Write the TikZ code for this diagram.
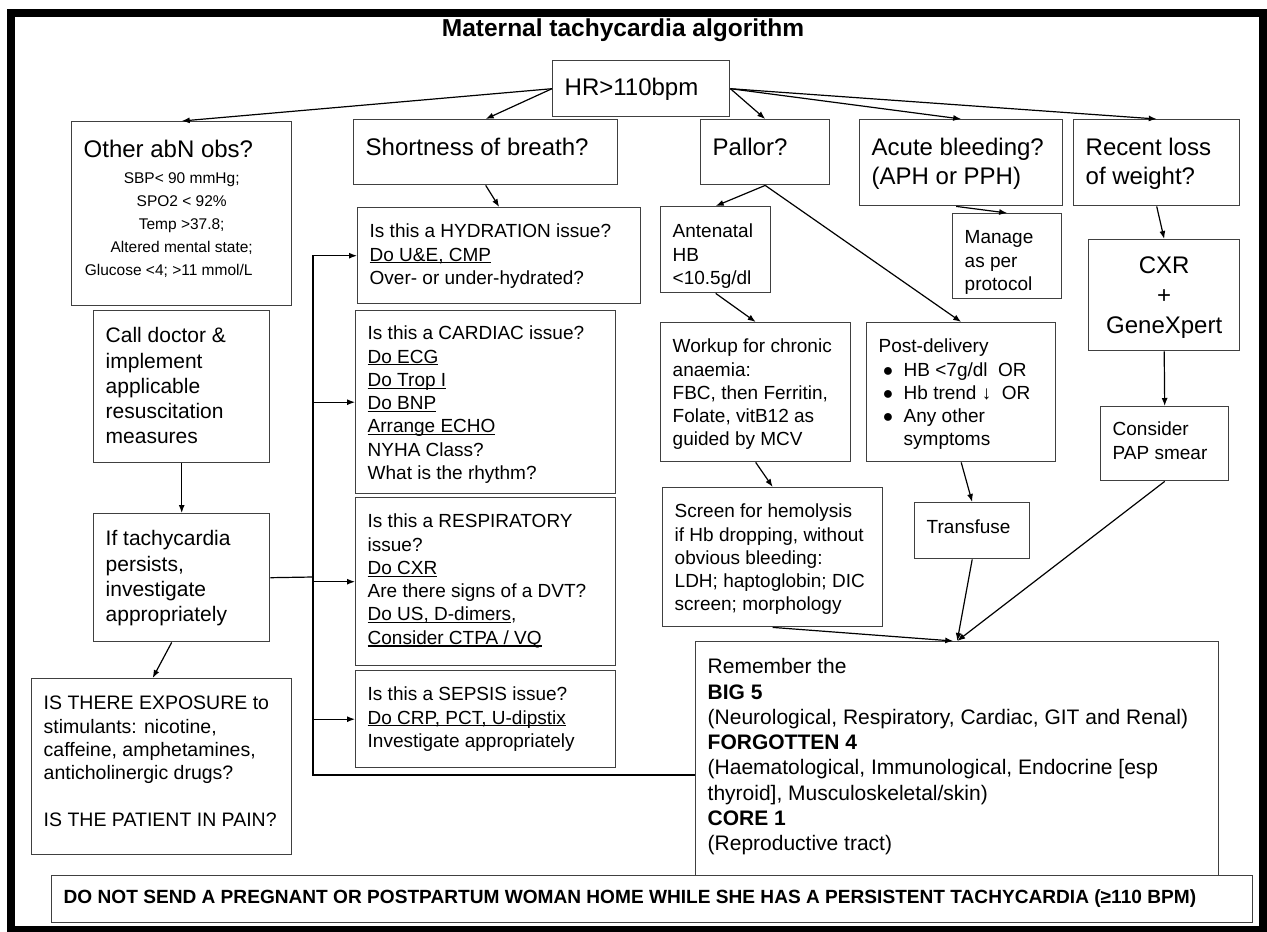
\documentclass[tikz,border=0pt]{standalone}
\usepackage{fontspec}
\setmainfont{Liberation Sans}
\usetikzlibrary{arrows.meta}

% text block of a box: width, height, first baseline
\newcommand{\boxtxt}[4]{\parbox[c][#2pt][t]{#1pt}{\leftskip=12pt\rightskip=0pt plus 1fil\parfillskip=0pt plus 1fil\rule{0pt}{#3pt}#4}}
\newcommand{\undl}[1]{\setbox0\hbox{#1}\rlap{\rule[-2.4pt]{\wd0}{1.2pt}}\box0}
\newcommand{\blt}{\hspace*{4pt}\makebox[21pt][l]{\fontsize{18}{18}\selectfont ●}}
\newcommand{\headfont}{\fontsize{24}{29}\selectfont}
\newcommand{\bodyfont}{\fontsize{19}{23.3}\selectfont}
\newcommand{\bigfont}{\fontsize{21}{25.3}\selectfont}

\tikzset{
  box/.style={draw=black!75, line width=1.4pt, anchor=north west, inner sep=0pt},
  link/.style={->, line width=1.2pt},
}

\begin{document}
\begin{tikzpicture}[x=1pt, y=-1pt, >={Latex[length=8pt,width=6pt]}]
        \useasboundingbox (0,0) rectangle (1267,932);
        \draw[line width=8pt] (11,13) rectangle (1263,930);

        % Title
        \node[font=\fontsize{24.5}{29}\selectfont\bfseries, anchor=base] (title) at (623,36) {Maternal tachycardia algorithm};

        % Top row
        \node[box] (hr) at (552,60) {\boxtxt{177}{56}{35}{\headfont HR>110bpm}};
        \node[box] (other) at (71,121) {\boxtxt{220}{184}{36}{\headfont Other abN obs?\par\vspace{3pt}\centering\fontsize{15.5}{23}\selectfont SBP< 90 mmHg;\\ SPO2 < 92\%\\ Temp >37.8;\\ Altered mental state;\\ \hspace*{-26pt}Glucose <4; >11 mmol/L\par}};
        \node[box] (sob) at (353,119) {\boxtxt{264}{65}{36}{\headfont Shortness of breath?}};
        \node[box] (pallor) at (700,119) {\boxtxt{129}{65}{36}{\headfont Pallor?}};
        \node[box] (bleed) at (859,119) {\boxtxt{203}{86}{36}{\headfont Acute bleeding?\\ (APH or PPH)}};
        \node[box] (weight) at (1073,119) {\boxtxt{166}{86}{36}{\headfont Recent loss\\ of weight?}};

        % Left column
        \node[box] (call) at (93,310) {\boxtxt{176}{152}{32}{\bigfont Call doctor \&\\ implement\\ applicable\\ resuscitation\\ measures}};
        \node[box] (tachy) at (93,513) {\boxtxt{176}{128}{32}{\bigfont If tachycardia\\ persists,\\ investigate\\ appropriately}};
        \node[box] (expo) at (31,678) {\boxtxt{260}{176}{31}{\fontsize{19.5}{23.3}\selectfont IS THERE EXPOSURE to\\ stimulants: nicotine,\\ caffeine, amphetamines,\\ anticholinergic drugs?\\[23.3pt] IS THE PATIENT IN PAIN?}};

        % Issue boxes
        \node[box] (hydr) at (357,207) {\boxtxt{283}{96}{30}{\bodyfont Is this a HYDRATION issue?\\ \undl{Do U\&E, CMP}\\ Over- or under-hydrated?}};
        \node[box] (cardiac) at (355,310) {\boxtxt{260}{183}{29}{\bodyfont Is this a CARDIAC issue?\\ \undl{Do ECG}\\ \undl{Do Trop I}\\ \undl{Do BNP}\\ \undl{Arrange ECHO}\\ NYHA Class?\\ What is the rhythm?}};
        \node[box] (resp) at (355,497) {\boxtxt{260}{168}{30}{\bodyfont Is this a RESPIRATORY\\ issue?\\ \undl{Do CXR}\\ Are there signs of a DVT?\\ \undl{Do US, D-dimers},\\ \undl{Consider CTPA / VQ}}};
        \node[box] (sepsis) at (355,670) {\boxtxt{260}{97}{30}{\bodyfont Is this a SEPSIS issue?\\ \undl{Do CRP, PCT, U-dipstix}\\ Investigate appropriately}};

        % Pallor branch
        \node[box] (antenatal) at (660,206) {\boxtxt{110}{86}{31}{\bodyfont Antenatal\\ HB\\ <10.5g/dl}};
        \node[box] (workup) at (660,322) {\boxtxt{190}{139}{30}{\bodyfont Workup for chronic\\ anaemia:\\ FBC, then Ferritin,\\ Folate, vitB12 as\\ guided by MCV}};
        \node[box] (screen) at (662,487) {\boxtxt{220}{139}{30}{\bodyfont Screen for hemolysis\\ if Hb dropping, without\\ obvious bleeding:\\ LDH; haptoglobin; DIC\\ screen; morphology}};
        \node[box] (post) at (866,322) {\boxtxt{189}{139}{30}{\bodyfont Post-delivery\\ \blt HB <7g/dl\ \ OR\\ \blt Hb trend ↓\ \ OR\\ \blt Any other\\ \hspace*{25pt}symptoms}};
        \node[box] (transfuse) at (914,502) {\boxtxt{115}{56}{31}{\bodyfont Transfuse}};

        % Bleeding and weight branches
        \node[box] (manage) at (952,213) {\boxtxt{109}{85}{30}{\bodyfont Manage\\ as per\\ protocol}};
        \node[box] (cxr) at (1088,239) {\boxtxt{151}{111}{34}{\centering\fontsize{24}{30}\selectfont CXR\\ +\\ GeneXpert\par}};
        \node[box] (pap) at (1100,406) {\boxtxt{128}{74}{29}{\bodyfont Consider\\ PAP smear}};

        % Summary
        \node[box] (remember) at (695,641) {\boxtxt{523}{234}{32}{\bigfont Remember the\\ \textbf{BIG 5}\\ (Neurological, Respiratory, Cardiac, GIT and Renal)\\ \textbf{FORGOTTEN 4}\\ (Haematological, Immunological, Endocrine [esp\\ thyroid], Musculoskeletal/skin)\\ \textbf{CORE 1}\\ (Reproductive tract)}};
        \node[box, fill=white] (warn) at (51,875) {\boxtxt{1201}{47}{28}{\bfseries\fontsize{19.1}{23}\selectfont DO NOT SEND A PREGNANT OR POSTPARTUM WOMAN HOME WHILE SHE HAS A PERSISTENT TACHYCARDIA (≥110 BPM)}};

        % Arrows from HR
        \draw[link] (hr.west) -- (other.north);
        \draw[link] (hr.west) -- (sob.north);
        \draw[link] (hr.east) -- (pallor.north);
        \draw[link] (hr.east) -- (bleed.north);
        \draw[link] (hr.east) -- (weight.north);

        % Downward arrows
        \draw[link] (sob.south) -- (hydr.north);
        \draw[link] (pallor.south) -- (antenatal.north);
        \draw[link] (pallor.south) -- (post.north);
        \draw[link] (antenatal.south) -- (workup.north);
        \draw[link] (workup.south) -- (screen.north);
        \draw[link] (post.south) -- (transfuse.north);
        \draw[link] ([xshift=-5pt]bleed.south) -- (manage.north);
        \draw[link] (weight.south) -- (cxr.north);
        \draw[link] (cxr.south) -- (pap.north);
        \draw[link] (screen.south) -- ([xshift=-4pt]remember.north);
        \draw[link] (transfuse.south) -- (remember.north);
        \draw[link] (pap.south) -- (remember.north);
        \draw[link] (call.south) -- (tachy.north);
        \draw[link] ([xshift=-10pt]tachy.south) -- ([xshift=-9pt]expo.north);

        % Investigation bus
        \coordinate (bus) at (313,577);
        \coordinate (busend) at (313,775);
        \draw[line width=1.2pt] (tachy.east) -- (bus);
        \draw[link] (bus) |- (hydr.west);
        \draw[link] (bus) |- (cardiac.west);
        \draw[link] (bus) |- (resp.west);
        \draw[link] (bus) |- (sepsis.west);
        \draw[line width=1.2pt] (bus) -- (busend) -- (busend -| remember.west);
\end{tikzpicture}
\end{document}
